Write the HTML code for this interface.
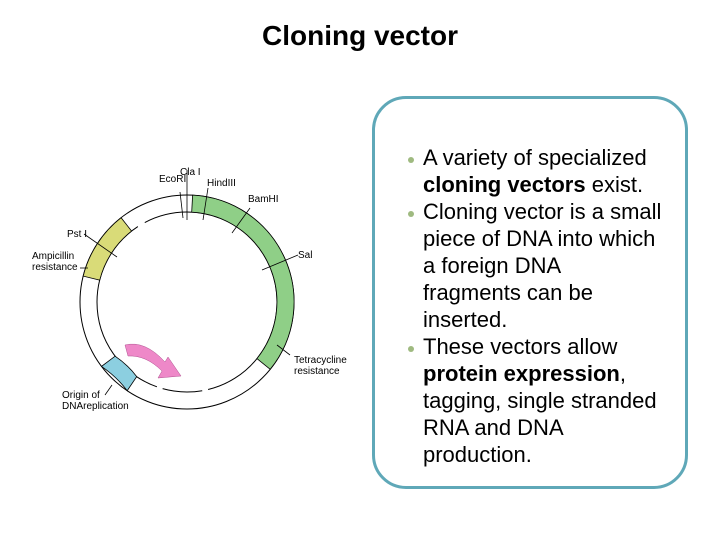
<!DOCTYPE html>
<html><head><meta charset="utf-8"><style>
html,body{margin:0;padding:0;background:#fff;}
body{width:720px;height:540px;position:relative;overflow:hidden;font-family:"Liberation Sans",sans-serif;}
.title{position:absolute;left:0;width:720px;top:20px;text-align:center;font-weight:bold;font-size:28px;color:#000;}
.box{position:absolute;left:372px;top:96px;width:310px;height:387px;border:3px solid #5fa8b8;border-radius:34px;}
.txt{position:absolute;left:423px;top:144px;font-size:22px;line-height:27px;color:#000;white-space:nowrap;}
.dot{position:absolute;left:408px;width:6px;height:6px;border-radius:3px;background:#9fba80;}
</style></head><body>
<div class="title">Cloning vector</div>
<svg width="720" height="540" style="position:absolute;left:0;top:0" font-family="Liberation Sans, sans-serif" font-size="10">
<g stroke="#000" stroke-width="1" fill="none">
<circle cx="187" cy="302" r="107"/>
<circle cx="187" cy="302" r="90" stroke-dasharray="120 6 40 6 200 8 200"/>
</g>
<path d="M192.6,195.1 A107,107 0 0 1 270.2,369.3 L256.9,358.6 A90,90 0 0 0 191.7,212.1 Z" fill="#8fcf87" stroke="#000" stroke-width="0.8"/>
<path d="M83.2,276.1 A107,107 0 0 1 121.1,217.7 L131.6,231.1 A90,90 0 0 0 99.7,280.2 Z" fill="#d9db78" stroke="#000" stroke-width="0.8"/>
<path d="M101.5,366.4 A107,107 0 0 1 127.2,390.7 L136.7,376.6 A90,90 0 0 0 115.1,356.2 Z" fill="#8ccfe0" stroke="#000" stroke-width="0.8"/>
<path d="M125,345 Q145,340 165,362 L168,357 L181,376 L158,378 L162,371 Q146,355 128,356 Z" fill="#ee88c8" stroke="#b05090" stroke-width="0.5"/>
<g stroke="#000" stroke-width="0.8">
<line x1="187" y1="170" x2="187" y2="220"/>
<line x1="180" y1="192" x2="183" y2="218"/>
<line x1="208" y1="188" x2="203" y2="220"/>
<line x1="250" y1="208" x2="232" y2="233"/>
<line x1="298" y1="255" x2="262" y2="270"/>
<line x1="290" y1="355" x2="277" y2="345"/>
<line x1="84" y1="234" x2="117" y2="257"/>
<line x1="80" y1="268" x2="88" y2="268"/>
<line x1="105" y1="395" x2="112" y2="385"/>
</g>
<g fill="#000">
<text x="180" y="175">Cla I</text>
<text x="159" y="182">EcoRI</text>
<text x="207" y="186">HindIII</text>
<text x="248" y="202">BamHI</text>
<text x="298" y="258">Sal</text>
<text x="67" y="237">Pst I</text>
<text x="32" y="259">Ampicillin</text>
<text x="32" y="270">resistance</text>
<text x="294" y="363">Tetracycline</text>
<text x="294" y="374">resistance</text>
<text x="62" y="398">Origin of</text>
<text x="62" y="409">DNAreplication</text>
</g>
</svg>
<div class="box"></div>
<div class="dot" style="top:157px"></div>
<div class="dot" style="top:211px"></div>
<div class="dot" style="top:346px"></div>
<div class="txt">A variety of specialized<br><b>cloning vectors</b> exist.<br>Cloning vector is a small<br>piece of DNA into which<br>a foreign DNA<br>fragments can be<br>inserted.<br>These vectors allow<br><b>protein expression</b>,<br>tagging, single stranded<br>RNA and DNA<br>production.</div>
</body></html>
